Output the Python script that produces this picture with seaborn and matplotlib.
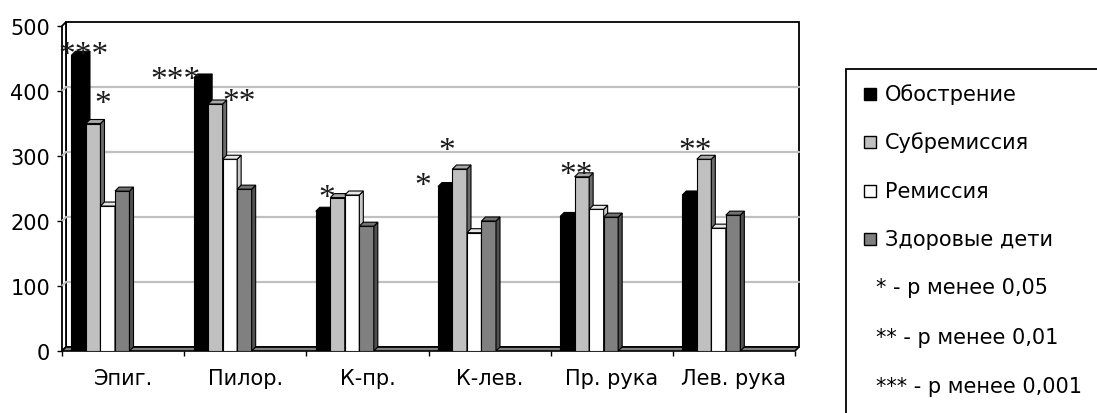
import numpy as np
import pandas as pd
import matplotlib
matplotlib.use("Agg")
import matplotlib.pyplot as plt
from matplotlib.patches import Polygon, Rectangle
from matplotlib.lines import Line2D
import seaborn as sns

# ---- data -------------------------------------------------------------
categories = ["Эпиг.", "Пилор.", "К-пр.", "К-лев.", "Пр. рука", "Лев. рука"]
series = ["Обострение", "Субремиссия", "Ремиссия", "Здоровые дети"]
exacerbation = [455, 420, 215, 253, 207, 240]
subremission = [350, 380, 236, 280, 268, 295]
remission = [223, 295, 240, 182, 218, 189]
healthy = [246, 249, 192, 200, 206, 209]
y_ticks = [0, 100, 200, 300, 400, 500]
significance_notes = ["* - p менее 0,05", "** - p менее 0,01", "*** - p менее 0,001"]

# significance marks: (text, category index, shift from group centre, height)
sig_marks = [
    ("***", 0, -0.135, 469),
    ("*", 0, 0.021, 395),
    ("***", 1, -0.39, 431),
    ("**", 1, 0.134, 398),
    ("*", 2, -0.146, 249),
    ("*", 3, -0.36, 268),
    ("*", 3, -0.164, 322),
    ("**", 4, -0.108, 285),
    ("**", 5, -0.13, 322),
]

# ---- styling ----------------------------------------------------------
front_colors = ["#000000", "#c0c0c0", "#ffffff", "#808080"]
side_colors = ["#000000", "#6b6b6b", "#c8c8c8", "#505050"]
top_colors = ["#000000", "#a8a8a8", "#e8e8e8", "#737373"]

sns.set_theme(style="white")
plt.rcParams["font.family"] = ["DejaVu Sans"]

W, H = 1097, 414
fig = plt.figure(figsize=(W / 100, H / 100), dpi=100)
ax = fig.add_axes([62 / W, (H - 352) / H, 733 / W, 325 / H])
ax.patch.set_visible(False)

df = pd.DataFrame({"Показатель": categories,
                   **dict(zip(series, [exacerbation, subremission, remission, healthy]))})
long = df.melt(id_vars="Показатель", var_name="Группа", value_name="Значение")

sns.barplot(data=long, x="Показатель", y="Значение", hue="Группа",
            hue_order=series, palette=dict(zip(series, front_colors)),
            width=0.475, dodge=True, saturation=1, edgecolor="black",
            linewidth=0.8, legend=False, ax=ax)

shift = 0.315
x0, x1 = -shift, len(categories) - shift
ax.set_xlim(x0, x1)
ax.set_ylim(0, 500)
for s in ax.spines.values():
    s.set_visible(False)

# depth of the pseudo-3D look, in pixels, converted to data units
DX_PX, DY_PX = 4, 4
pos = ax.get_position()
dx = DX_PX * (x1 - x0) / (pos.width * W)
dy = DY_PX * 500 / (pos.height * H)

# back wall, side wall, gridlines and floor
ax.add_patch(Polygon([(x0 + dx, dy), (x1 + dx, dy), (x1 + dx, 500 + dy), (x0 + dx, 500 + dy)],
                     closed=True, facecolor="white", edgecolor="black", lw=1.3,
                     zorder=0.2, clip_on=False))
ax.add_patch(Polygon([(x0, 0), (x0 + dx, dy), (x0 + dx, 500 + dy), (x0, 500)],
                     closed=True, facecolor="white", edgecolor="black", lw=1.3,
                     zorder=0.3, clip_on=False))
for v in y_ticks[1:-1]:
    ax.add_line(Line2D([x0, x0 + dx, x1 + dx], [v, v + dy, v + dy], color="#c0c0c0",
                       lw=1.6, zorder=0.4, clip_on=False))
ax.add_patch(Polygon([(x0, 0), (x1, 0), (x1 + dx, dy), (x0 + dx, dy)],
                     closed=True, facecolor="#808080", edgecolor="black", lw=1.2,
                     zorder=0.6, clip_on=False))

# side and top faces for every bar
for j, cont in enumerate(ax.containers):
    for bar in cont:
        bx, bw, bh = bar.get_x(), bar.get_width(), bar.get_height()
        z = 2 + 0.1 * j
        bar.set_zorder(z)
        ax.add_patch(Polygon([(bx + bw, 0), (bx + bw + dx, dy), (bx + bw + dx, bh + dy), (bx + bw, bh)],
                             closed=True, facecolor=side_colors[j], edgecolor="black",
                             lw=0.8, zorder=z, clip_on=False))
        ax.add_patch(Polygon([(bx, bh), (bx + bw, bh), (bx + bw + dx, bh + dy), (bx + dx, bh + dy)],
                             closed=True, facecolor=top_colors[j], edgecolor="black",
                             lw=0.8, zorder=z, clip_on=False))

# significance marks
STAR_FS = 24
for text, k, off, yv in sig_marks:
    ax.annotate(text, (k + off, yv), xytext=(0, -0.52 * STAR_FS), textcoords="offset points",
                ha="center", va="baseline", fontsize=STAR_FS, color="#1a1a1a",
                family=["Liberation Serif", "DejaVu Serif"],
                zorder=5, annotation_clip=False)

# axes ticks and labels
ax.set_yticks(y_ticks)
ax.tick_params(axis="y", direction="out", length=3.6, width=1, pad=5,
               labelsize=15, left=True, color="black", labelcolor="black")
ax.set_xticks([k + 0.5 - shift for k in range(len(categories))])
ax.set_xticklabels(categories)
ax.tick_params(axis="x", which="major", length=0, pad=12, labelsize=15, labelcolor="black")
ax.set_xticks([k - shift for k in range(len(categories) + 1)], minor=True)
ax.tick_params(axis="x", which="minor", direction="out", length=3.6, width=1,
               bottom=True, color="black")
ax.set_xlabel("")
ax.set_ylabel("")

# legend panel
fig.add_artist(Rectangle((846 / W, -0.05), 0.3, 1 - 70 / H + 0.05, transform=fig.transFigure,
                         facecolor="white", edgecolor="black", lw=1.3))
row_y = [95, 143, 192, 240]
for name, col, y in zip(series, front_colors, row_y):
    fig.add_artist(Rectangle((864 / W, 1 - (y + 6) / H), 12 / W, 12 / H,
                             transform=fig.transFigure, facecolor=col,
                             edgecolor="black", lw=1.0))
    fig.text(885 / W, 1 - y / H, name, ha="left", va="center", fontsize=15, color="black")
for note, y in zip(significance_notes, [288, 338, 387]):
    fig.text(876 / W, 1 - y / H, note, ha="left", va="center", fontsize=15, color="black")

fig.savefig("out.png", dpi=100)
